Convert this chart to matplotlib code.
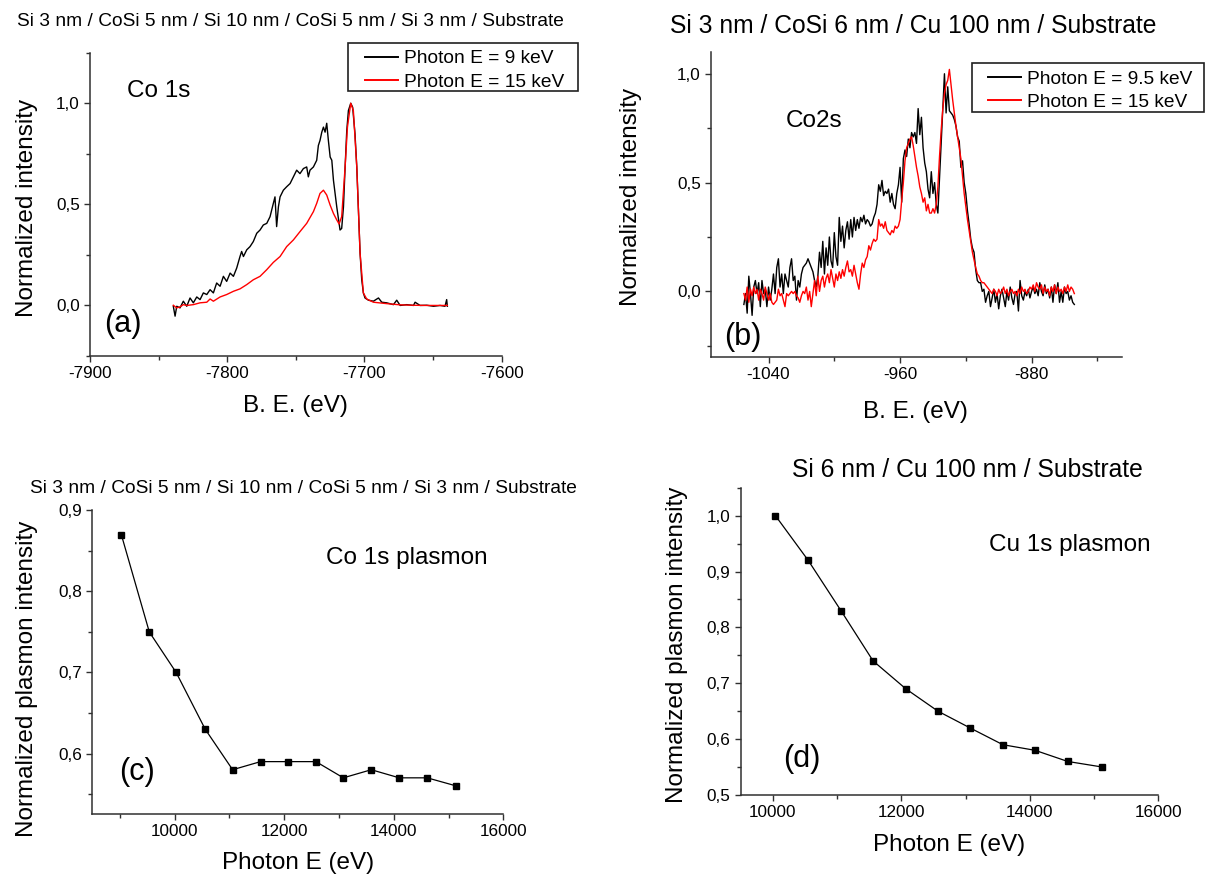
import matplotlib
matplotlib.use('Agg')
import matplotlib.pyplot as plt
from matplotlib.ticker import MultipleLocator, FuncFormatter
from matplotlib.patches import Rectangle

plt.rcParams['font.family'] = ['Liberation Sans', 'DejaVu Sans']

# ---------------- data ----------------
# (a) Co 1s spectra
BE_a_9 = [-7839.3, -7838.0, -7836.8, -7834.4, -7832.0, -7829.5, -7827.1, -7824.7, -7822.2, -7819.8,
          -7817.4, -7814.9, -7812.5, -7810.1, -7807.7, -7805.2, -7802.8, -7800.4, -7797.9, -7795.5,
          -7793.1, -7790.7, -7789.5, -7788.2, -7785.8, -7783.4, -7781.0, -7778.5, -7776.1, -7773.7,
          -7771.2, -7768.8, -7766.4, -7765.2, -7764.0, -7762.7, -7761.5, -7759.1, -7756.7, -7754.2,
          -7751.8, -7749.4, -7747.0, -7744.5, -7742.1, -7740.9, -7739.7, -7737.2, -7734.8, -7733.6,
          -7732.4, -7731.1, -7729.9, -7728.7, -7727.5, -7726.3, -7725.0, -7723.8, -7722.6, -7720.2,
          -7717.8, -7716.6, -7715.3, -7714.1, -7712.9, -7711.7, -7710.0, -7708.6, -7706.9, -7705.6,
          -7704.4, -7703.2, -7702.0, -7700.8, -7699.6, -7697.1, -7693.5, -7689.8, -7687.4, -7683.8,
          -7678.9, -7676.5, -7674.0, -7669.2, -7664.3, -7663.1, -7659.5, -7654.6, -7649.7, -7644.9,
          -7641.3, -7640.1, -7639.6]
I_a_9 = [-0.004, -0.053, -0.004, -0.012, 0.021, -0.004, 0.037, 0.013, 0.042, 0.029,
         0.062, 0.054, 0.078, 0.062, 0.111, 0.095, 0.144, 0.119, 0.160, 0.144,
         0.185, 0.242, 0.267, 0.242, 0.275, 0.291, 0.316, 0.357, 0.373, 0.398,
         0.406, 0.439, 0.505, 0.537, 0.390, 0.488, 0.537, 0.570, 0.587, 0.603,
         0.636, 0.669, 0.652, 0.677, 0.685, 0.636, 0.669, 0.685, 0.718, 0.791,
         0.816, 0.857, 0.882, 0.857, 0.901, 0.816, 0.734, 0.718, 0.619, 0.488,
         0.373, 0.381, 0.488, 0.685, 0.865, 0.964, 1.000, 0.980, 0.849, 0.685,
         0.472, 0.259, 0.128, 0.062, 0.037, 0.026, 0.021, 0.037, 0.016, 0.013,
         0.004, 0.026, 0.000, 0.004, 0.000, 0.016, 0.000, 0.001, -0.004, 0.000,
         -0.004, 0.029, -0.004]
BE_a_15 = [-7839.3, -7836.8, -7834.4, -7832.0, -7829.5, -7824.7, -7819.8, -7814.9, -7812.5, -7810.1,
           -7805.2, -7800.4, -7795.5, -7790.7, -7785.8, -7781.0, -7776.1, -7771.2, -7766.4, -7761.5,
           -7756.7, -7751.8, -7747.0, -7742.1, -7737.2, -7734.8, -7732.4, -7729.9, -7727.5, -7725.0,
           -7722.6, -7720.2, -7718.5, -7716.6, -7714.1, -7712.4, -7710.0, -7708.1, -7705.6, -7703.2,
           -7700.8, -7698.4, -7693.5, -7683.8, -7674.0, -7664.3, -7654.6, -7639.6]
I_a_15 = [0.001, -0.012, -0.007, 0.004, 0.000, 0.004, 0.013, 0.016, 0.032, 0.021,
          0.042, 0.054, 0.070, 0.082, 0.103, 0.127, 0.144, 0.177, 0.213, 0.242,
          0.291, 0.324, 0.365, 0.406, 0.464, 0.505, 0.554, 0.570, 0.546, 0.496,
          0.455, 0.423, 0.403, 0.439, 0.685, 0.882, 1.000, 0.964, 0.685, 0.259,
          0.062, 0.032, 0.016, 0.009, 0.003, 0.001, 0.000, 0.000]

# (b) Co 2s spectra, binding energy -1055 ... -854 eV in 1 eV steps
BE_b = list(range(-1055, -853))
I_b_95 = [-0.06, -0.01, -0.10, 0.07, -0.01, -0.11, 0.02, 0.05, -0.01, 0.04,
          -0.07, 0.05, -0.01, 0.01, -0.07, 0.02, -0.04, 0.01, 0.08, -0.01,
          0.11, 0.15, 0.02, 0.08, -0.01, 0.08, 0.05, 0.02, 0.11, 0.15,
          0.05, 0.07, -0.04, 0.05, 0.02, 0.08, 0.11, 0.12, 0.13, 0.15,
          0.13, 0.11, 0.09, 0.05, 0.02, 0.07, 0.18, 0.11, 0.23, 0.08,
          0.20, 0.12, 0.25, 0.14, 0.11, 0.27, 0.16, 0.12, 0.34, 0.23,
          0.30, 0.20, 0.28, 0.32, 0.24, 0.33, 0.25, 0.34, 0.28, 0.33,
          0.29, 0.34, 0.32, 0.35, 0.31, 0.33, 0.32, 0.30, 0.31, 0.34,
          0.36, 0.40, 0.49, 0.46, 0.51, 0.44, 0.46, 0.45, 0.47, 0.41,
          0.45, 0.40, 0.38, 0.45, 0.49, 0.57, 0.41, 0.61, 0.65, 0.62,
          0.70, 0.66, 0.73, 0.71, 0.73, 0.68, 0.84, 0.72, 0.80, 0.66,
          0.59, 0.55, 0.47, 0.43, 0.55, 0.45, 0.50, 0.40, 0.36, 0.52,
          0.68, 0.84, 1.00, 0.82, 0.94, 0.83, 0.82, 0.81, 0.79, 0.76,
          0.71, 0.69, 0.57, 0.60, 0.50, 0.45, 0.37, 0.31, 0.24, 0.20,
          0.18, 0.10, 0.05, 0.04, 0.04, 0.00, 0.01, -0.05, -0.02, 0.00,
          -0.07, -0.03, 0.01, -0.05, -0.01, -0.08, -0.02, 0.01, -0.03, -0.07,
          0.00, -0.04, 0.02, -0.03, -0.06, -0.01, 0.00, -0.09, 0.05, -0.02,
          -0.04, 0.00, -0.02, 0.01, -0.03, 0.00, 0.02, -0.01, 0.01, -0.02,
          0.04, 0.00, -0.02, 0.03, -0.01, 0.01, -0.03, 0.02, -0.05, 0.03,
          -0.01, 0.04, -0.05, 0.00, -0.05, 0.02, -0.01, 0.00, -0.04, -0.02,
          -0.05, -0.06]
I_b_15 = [-0.01, -0.04, 0.02, -0.05, 0.01, -0.02, 0.02, -0.01, 0.01, -0.04,
          0.01, -0.01, -0.04, 0.02, -0.01, -0.04, -0.01, -0.05, -0.06, -0.05,
          -0.04, 0.01, -0.02, -0.01, -0.04, -0.07, -0.01, -0.02, -0.01, 0.00,
          -0.01, 0.00, -0.02, -0.03, -0.05, -0.02, 0.00, -0.01, 0.02, -0.04,
          0.00, -0.07, -0.01, 0.05, -0.02, 0.07, 0.00, 0.05, 0.07, 0.02,
          0.06, 0.08, 0.04, 0.10, 0.06, 0.02, 0.08, 0.05, 0.09, 0.06,
          0.10, 0.07, 0.11, 0.14, 0.09, 0.10, 0.07, 0.12, 0.08, 0.04,
          0.01, 0.08, 0.13, 0.11, 0.145, 0.16, 0.21, 0.19, 0.22, 0.24,
          0.23, 0.24, 0.33, 0.30, 0.31, 0.29, 0.32, 0.28, 0.27, 0.26,
          0.28, 0.27, 0.30, 0.29, 0.30, 0.33, 0.42, 0.50, 0.60, 0.66,
          0.68, 0.70, 0.71, 0.67, 0.62, 0.57, 0.53, 0.48, 0.45, 0.41,
          0.43, 0.37, 0.40, 0.36, 0.36, 0.38, 0.36, 0.40, 0.48, 0.62,
          0.74, 0.84, 0.91, 0.95, 0.97, 1.02, 0.95, 0.88, 0.82, 0.76,
          0.71, 0.66, 0.61, 0.53, 0.45, 0.39, 0.33, 0.28, 0.23, 0.18,
          0.145, 0.11, 0.08, 0.07, 0.05, 0.04, 0.04, 0.03, 0.02, 0.01,
          0.00, -0.01, 0.01, 0.00, -0.02, 0.01, -0.01, 0.00, 0.02, -0.01,
          0.01, -0.02, 0.00, 0.01, -0.01, 0.00, -0.02, 0.01, -0.01, 0.02,
          0.00, 0.01, -0.01, 0.00, 0.02, 0.01, 0.03, 0.00, 0.04, 0.02,
          0.01, 0.03, -0.01, 0.02, 0.00, 0.01, -0.02, 0.02, 0.00, 0.03,
          -0.01, 0.02, 0.00, 0.01, -0.01, 0.02, 0.00, 0.03, 0.00, 0.02,
          0.01, -0.01]

# (c) Co 1s plasmon
PE_c = [9030, 9540, 10030, 10560, 11060, 11570, 12070, 12580, 13080, 13590, 14100, 14610, 15140]
PL_c = [0.87, 0.75, 0.70, 0.63, 0.58, 0.59, 0.59, 0.59, 0.57, 0.58, 0.57, 0.57, 0.56]

# (d) Cu 1s plasmon
PE_d = [10040, 10550, 11060, 11560, 12070, 12570, 13070, 13580, 14080, 14590, 15130]
PL_d = [1.00, 0.92, 0.83, 0.74, 0.69, 0.65, 0.62, 0.59, 0.58, 0.56, 0.55]

TITLE_A = "Si 3 nm / CoSi 5 nm / Si 10 nm / CoSi 5 nm / Si 3 nm / Substrate"
TITLE_B = "Si 3 nm / CoSi 6 nm / Cu 100 nm / Substrate"
TITLE_C = TITLE_A
TITLE_D = "Si 6 nm / Cu 100 nm / Substrate"

# ---------------- figure ----------------
W, H = 1208, 877
fig = plt.figure(figsize=(W / 100, H / 100), dpi=100)
fig.patch.set_facecolor('white')


def axes_px(left, top, right, bottom):
    return fig.add_axes([left / W, 1 - bottom / H, (right - left) / W, (bottom - top) / H])


def ytick_fmt(v, p):
    v = round(v, 3) + 0.0
    return f"{v:.1f}".replace('.', ',')


def xtick_fmt(v, p):
    return f"{v:.0f}"


SPC = '#303030'


def style(ax, xmaj, xmin, ymaj, ymin):
    ax.set_facecolor('none')
    for s in ['top', 'right']:
        ax.spines[s].set_visible(False)
    for s in ['left', 'bottom']:
        ax.spines[s].set_linewidth(1.1)
        ax.spines[s].set_color(SPC)
    ax.xaxis.set_major_locator(MultipleLocator(xmaj))
    ax.xaxis.set_minor_locator(MultipleLocator(xmin))
    ax.yaxis.set_major_locator(MultipleLocator(ymaj))
    ax.yaxis.set_minor_locator(MultipleLocator(ymin))
    ax.xaxis.set_major_formatter(FuncFormatter(xtick_fmt))
    ax.yaxis.set_major_formatter(FuncFormatter(ytick_fmt))
    ax.tick_params(which='major', direction='out', length=4.3, width=1.0, color=SPC,
                   labelsize=12.3, pad=3, labelcolor='black')
    ax.tick_params(which='minor', direction='out', length=2.9, width=1.0, color=SPC)


def ftext(x, y, s, **kw):
    fig.text(x / W, 1 - y / H, s, **kw)


ax_a = axes_px(90, 52.7, 501.7, 356)
ax_b = axes_px(711, 52, 1122, 356.7)
ax_c = axes_px(92.3, 510, 503.4, 814.3)
ax_d = axes_px(740.7, 487.7, 1158.4, 795)

# (a)
h_a9, = ax_a.plot(BE_a_9, I_a_9, color='black', lw=1.0, label='Photon E = 9 keV')
h_a15, = ax_a.plot(BE_a_15, I_a_15, color='red', lw=1.0, label='Photon E = 15 keV')
ax_a.set_xlim(-7900, -7600)
ax_a.set_ylim(-0.25, 1.25)
style(ax_a, 100, 50, 0.5, 0.25)

# (b)
h_b95, = ax_b.plot(BE_b, I_b_95, color='black', lw=1.0, label='Photon E = 9.5 keV')
h_b15, = ax_b.plot(BE_b, I_b_15, color='red', lw=1.0, label='Photon E = 15 keV')
ax_b.set_xlim(-1075, -825)
ax_b.set_ylim(-0.3, 1.1)
style(ax_b, 80, 40, 0.5, 0.25)

# (c)
ax_c.plot(PE_c, PL_c, color='black', lw=0.9, marker='s', ms=5, mfc='black', mec='black')
ax_c.set_xlim(8500, 16000)
ax_c.set_ylim(0.525, 0.9005)
style(ax_c, 2000, 1000, 0.1, 0.05)

# (d)
ax_d.plot(PE_d, PL_d, color='black', lw=0.9, marker='s', ms=5, mfc='black', mec='black')
ax_d.set_xlim(9500, 16000)
ax_d.set_ylim(0.5, 1.05)
style(ax_d, 2000, 1000, 0.1, 0.05)

# legends: frameless legend plus a drawn frame box
for handles, (l, t, r, b), hx, ytop in [([h_a9, h_a15], (348, 43, 578, 91), 364.6, 50.0),
                                        ([h_b95, h_b15], (971.8, 63, 1203.5, 112), 987.9, 70.5)]:
    leg = fig.legend(handles=handles, loc='upper left',
                     bbox_to_anchor=(hx / W, 1 - ytop / H),
                     borderaxespad=0, borderpad=0, fontsize=13.8, frameon=False,
                     handlelength=1.75, handletextpad=0.3, labelspacing=0.30)
    for ln in leg.get_lines():
        ln.set_linewidth(1.4)
    fig.patches.append(Rectangle((l / W, 1 - b / H), (r - l) / W, (b - t) / H,
                                 transform=fig.transFigure, fill=False,
                                 edgecolor='#202020', linewidth=1.2))

# titles
ftext(17, 26, TITLE_A, fontsize=13.8, ha='left', va='baseline')
ftext(669.5, 33.3, TITLE_B, fontsize=17.7, ha='left', va='baseline')
ftext(30, 493.3, TITLE_C, fontsize=13.8, ha='left', va='baseline')
ftext(792.5, 476.7, TITLE_D, fontsize=17.7, ha='left', va='baseline')

# annotations
ftext(126.7, 96.7, 'Co 1s', fontsize=17.5, ha='left', va='baseline')
ftext(785.3, 127.3, 'Co2s', fontsize=17.5, ha='left', va='baseline')
ftext(325.7, 564, 'Co 1s plasmon', fontsize=17.5, ha='left', va='baseline')
ftext(988.8, 551, 'Cu 1s plasmon', fontsize=17.5, ha='left', va='baseline')
ftext(104, 332, '(a)', fontsize=22, ha='left', va='baseline')
ftext(724.3, 345, '(b)', fontsize=22, ha='left', va='baseline')
ftext(118.8, 780, '(c)', fontsize=22, ha='left', va='baseline')
ftext(782.7, 767, '(d)', fontsize=22, ha='left', va='baseline')

# axis labels
ftext(295.5, 411.7, 'B. E. (eV)', fontsize=17.5, ha='center', va='baseline')
ftext(915, 417.5, 'B. E. (eV)', fontsize=17.5, ha='center', va='baseline')
ftext(298, 869, 'Photon E (eV)', fontsize=17.5, ha='center', va='baseline')
ftext(949, 851, 'Photon E (eV)', fontsize=17.5, ha='center', va='baseline')

ftext(33, 208, 'Normalized intensity', fontsize=17.5, rotation=90,
      rotation_mode='anchor', ha='center', va='baseline')
ftext(637, 197, 'Normalized intensity', fontsize=17.5, rotation=90,
      rotation_mode='anchor', ha='center', va='baseline')
ftext(33, 679, 'Normalized plasmon intensity', fontsize=17.5, rotation=90,
      rotation_mode='anchor', ha='center', va='baseline')
ftext(683, 644.7, 'Normalized plasmon intensity', fontsize=17.5, rotation=90,
      rotation_mode='anchor', ha='center', va='baseline')

fig.savefig('out.png', dpi=100, facecolor='white')
